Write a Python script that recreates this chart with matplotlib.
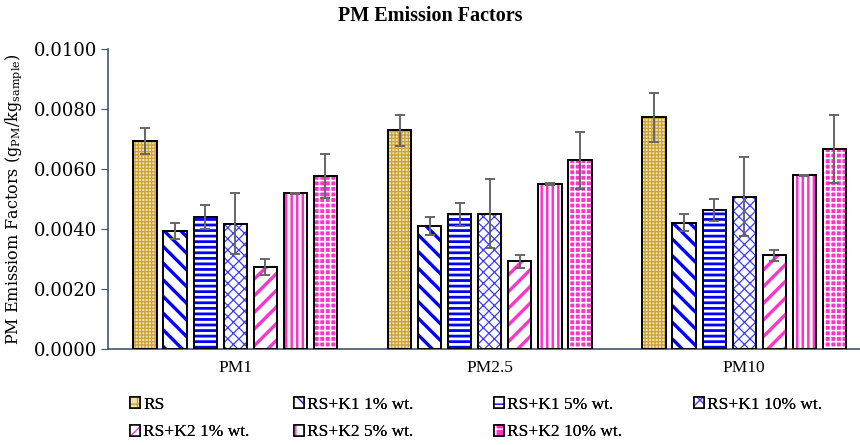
import numpy as np
import matplotlib
matplotlib.use('Agg')
import matplotlib.pyplot as plt
from matplotlib.patches import Patch

plt.rcParams['font.family'] = ['Liberation Serif', 'DejaVu Serif']
plt.rcParams['mathtext.fontset'] = 'custom'
plt.rcParams['mathtext.rm'] = 'DejaVu Serif'

# data
categories = ['PM1', 'PM2.5', 'PM10']
series = ['RS', 'RS+K1 1% wt.', 'RS+K1 5% wt.', 'RS+K1 10% wt.',
          'RS+K2 1% wt.', 'RS+K2 5% wt.', 'RS+K2 10% wt.']
values = [
    [0.00693, 0.00729, 0.00773],   # RS
    [0.00394, 0.00410, 0.00421],   # RS+K1 1%
    [0.00440, 0.00449, 0.00463],   # RS+K1 5%
    [0.00418, 0.00451, 0.00508],   # RS+K1 10%
    [0.00274, 0.00293, 0.00313],   # RS+K2 1%
    [0.00519, 0.00550, 0.00579],   # RS+K2 5%
    [0.00577, 0.00629, 0.00667],   # RS+K2 10%
]
errors = [
    [0.00043, 0.00052, 0.00082],
    [0.00026, 0.00030, 0.00028],
    [0.00040, 0.00038, 0.00037],
    [0.00102, 0.00114, 0.00131],
    [0.00027, 0.00022, 0.00018],
    [0.00002, 0.00002, 0.00002],
    [0.00072, 0.00096, 0.00114],
]
yticks = [0.0, 0.002, 0.004, 0.006, 0.008, 0.010]

# (face colour, hatch colour, hatch, hatch linewidth)
styles = [
    ('#f3e2a6', '#caa23c', '+++++', 0.9),
    ('white', '#0000ff', '\\\\', 2.4),
    ('white', '#0000ff', '---', 2.0),
    ('white', '#3c3cff', 'xxx', 0.9),
    ('white', '#ff33cc', '//', 2.4),
    ('white', '#ff33cc', '|||', 1.8),
    ('#ff33cc', 'white', '+++', 1.15),
]

fig = plt.figure(figsize=(8.6, 4.45), dpi=100)
ax = fig.add_axes([108 / 860, 96 / 445, 763.5 / 860, 300 / 445])

x = np.arange(len(categories))
pitch = 0.118
width = 0.092
handles = []
for j, name in enumerate(series):
    face, hcol, hatch, hlw = styles[j]
    pos = x + (j - 3) * pitch
    under = ax.bar(pos, values[j], width, color=face, edgecolor=hcol,
                   hatch=hatch, linewidth=0, zorder=2)
    for p in under:
        p.set_hatch_linewidth(hlw)
    ax.bar(pos, values[j], width, fill=False, edgecolor='black',
           linewidth=1.4, zorder=3)
    ax.errorbar(pos, values[j], yerr=errors[j], fmt='none', ecolor='#666666',
                elinewidth=1.4, capsize=3.5, capthick=1.4, zorder=4)
    h = Patch(facecolor=face, edgecolor=hcol, hatch=hatch[:2], linewidth=0)
    h.set_hatch_linewidth(min(hlw, 1.5))
    frame = Patch(fill=False, edgecolor='black', linewidth=1.1)
    handles.append((h, frame))

ax.set_xlim(-0.5, 2.5)
ax.set_ylim(0, 0.01)
ax.set_yticks(yticks)
ax.set_yticklabels([f'{v:.4f}' for v in yticks], fontsize=13,
                   family='DejaVu Serif')
ax.set_xticks(x)
ax.set_xticklabels(categories, fontsize=12.5)
ax.tick_params(axis='x', length=0, pad=8)
ax.tick_params(axis='y', length=5, color='#44546a', pad=3)
for s in ['top', 'right']:
    ax.spines[s].set_visible(False)
for s in ['left', 'bottom']:
    ax.spines[s].set_color('#44546a')
    ax.spines[s].set_linewidth(1.2)

ax.set_ylabel('PM Emissiom Factors (g$_{\\mathrm{PM}}$/kg$_{\\mathrm{sample}}$)',
              fontsize=11.5, family='DejaVu Serif', labelpad=7)
fig.text(0.5, 0.965, 'PM Emission Factors', ha='center', va='center',
         fontsize=14.5, fontweight='bold')

# legend, one column per group as in the reference
cols = [[0, 4], [1, 5], [2, 6], [3]]
col_x = [130, 294, 494, 694]
for c, xs in zip(cols, col_x):
    lg = fig.legend([handles[i] for i in c], [series[i] for i in c],
                    loc='upper left', bbox_to_anchor=(xs / 860, 1 - 397 / 445),
                    frameon=False, fontsize=12.5, handlelength=0.6,
                    handleheight=0.6, handletextpad=0.15, labelspacing=0.65,
                    borderpad=0, borderaxespad=0)
    fig.add_artist(lg)

fig.savefig('out.png', dpi=100)
